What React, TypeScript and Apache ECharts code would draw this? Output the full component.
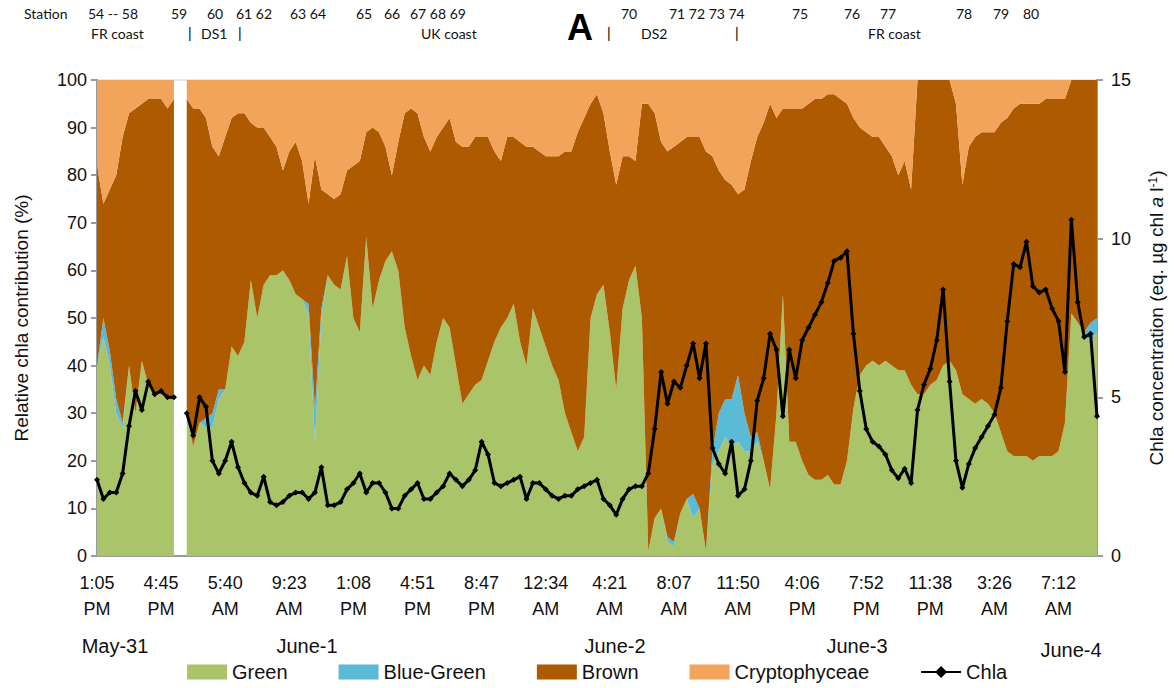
import React, { useEffect, useRef } from "react";
import * as echarts from "echarts";

// Relative contribution (%) of each algal group per sample; null = no data (sampling gap)
const green = [
  40, 46, 40, 30, 27, 40, 30, 41, 36, 34, 34, 33, 33, null, 30, 23, 28, 27, 27, 33,
  35, 44, 42, 45, 58, 50, 57, 59, 59, 60, 58, 55, 54, 51, 24, 50, 59, 57, 56, 63,
  50, 47, 67, 52, 58, 62, 64, 60, 48, 42, 37, 40, 38, 45, 50, 48, 40, 32, 34, 36,
  37, 41, 45, 48, 50, 53, 45, 40, 52, 48, 44, 40, 37, 30, 26, 22, 25, 50, 55, 57,
  47, 35, 52, 58, 61, 50, 1, 8, 10, 3, 2, 9, 12, 8, 10, 1, 19, 22, 25, 23,
  24, 22, 22, 24, 20, 14, 30, 55, 24, 24, 20, 17, 16, 16, 17, 15, 15, 20, 31, 38,
  40, 41, 40, 41, 40, 39, 39, 36, 34, 34, 36, 37, 40, 41, 39, 34, 33, 32, 33, 32,
  30, 26, 22, 21, 21, 21, 20, 21, 21, 21, 22, 28, 51, 49, 47, 45, 47,
];
const blueGreen = [
  0, 4, 3, 3, 1, 0, 0, 0, 0, 0, 0, 0, 0, null, 0, 0, 0, 2, 3, 2,
  0, 0, 0, 0, 0, 0, 0, 0, 0, 0, 0, 0, 0, 2, 7, 2, 0, 0, 0, 0,
  0, 0, 0, 0, 0, 0, 0, 0, 0, 0, 0, 0, 0, 0, 0, 0, 0, 0, 0, 0,
  0, 0, 0, 0, 0, 0, 0, 0, 0, 0, 0, 0, 0, 0, 0, 0, 0, 0, 0, 0,
  0, 0, 0, 0, 0, 0, 0, 0, 0, 1, 1, 0, 0, 5, 0, 0, 3, 8, 8, 10,
  14, 8, 3, 2, 0, 0, 0, 0, 0, 0, 0, 0, 0, 0, 0, 0, 0, 0, 0, 0,
  0, 0, 0, 0, 0, 0, 0, 0, 0, 0, 0, 0, 0, 0, 0, 0, 0, 0, 0, 0,
  0, 0, 0, 0, 0, 0, 0, 0, 0, 0, 0, 0, 0, 0, 0, 4, 3,
];
const brown = [
  42, 24, 34, 47, 60, 53, 64, 54, 60, 62, 62, 61, 63, null, 66, 71, 66, 63, 56, 49,
  53, 48, 51, 48, 33, 40, 33, 29, 27, 21, 27, 32, 29, 21, 53, 25, 17, 18, 20, 18,
  32, 36, 22, 38, 31, 24, 16, 27, 45, 52, 56, 48, 47, 43, 40, 44, 47, 54, 52, 52,
  51, 47, 40, 35, 38, 35, 42, 46, 34, 37, 40, 44, 47, 55, 59, 67, 67, 45, 42, 36,
  38, 43, 32, 26, 22, 45, 94, 85, 77, 81, 83, 78, 76, 75, 78, 84, 62, 51, 46, 45,
  38, 47, 58, 62, 71, 81, 62, 39, 70, 70, 74, 78, 80, 80, 80, 82, 81, 75, 61, 52,
  49, 47, 48, 45, 44, 41, 44, 41, 66, 66, 64, 63, 60, 59, 56, 44, 53, 56, 56, 57,
  59, 65, 70, 73, 74, 74, 75, 74, 75, 75, 74, 68, 49, 51, 53, 51, 50,
];
const cryptophyceae = [
  18, 26, 23, 20, 12, 7, 6, 5, 4, 4, 4, 6, 4, null, 4, 6, 6, 8, 14, 16,
  12, 8, 7, 7, 9, 10, 10, 12, 14, 19, 15, 13, 17, 26, 16, 23, 24, 25, 24, 19,
  18, 17, 11, 10, 11, 14, 20, 13, 7, 6, 7, 12, 15, 12, 10, 8, 13, 14, 14, 12,
  12, 12, 15, 17, 12, 12, 13, 14, 14, 15, 16, 16, 16, 15, 15, 11, 8, 5, 3, 7,
  15, 22, 16, 16, 17, 5, 5, 7, 13, 15, 14, 13, 12, 12, 12, 15, 16, 19, 21, 22,
  24, 23, 17, 12, 9, 5, 8, 6, 6, 6, 6, 5, 4, 4, 3, 3, 4, 5, 8, 10,
  11, 12, 12, 14, 16, 20, 17, 23, 0, 0, 0, 0, 0, 0, 5, 22, 14, 12, 11, 11,
  11, 9, 8, 6, 5, 5, 5, 5, 4, 4, 4, 4, 0, 0, 0, 0, 0,
];
// Chlorophyll a concentration (eq. µg chl a per litre)
const chla = [
  2.4, 1.8, 2.0, 2.0, 2.6, 4.1, 5.2, 4.6, 5.5, 5.1, 5.2, 5.0, 5.0, null, 4.5, 3.8, 5.0, 4.7, 3.0, 2.6,
  3.0, 3.6, 2.8, 2.3, 2.0, 1.9, 2.5, 1.7, 1.6, 1.7, 1.9, 2.0, 2.0, 1.8, 2.0, 2.8, 1.6, 1.6, 1.7, 2.1,
  2.3, 2.6, 2.0, 2.3, 2.3, 2.0, 1.5, 1.5, 1.9, 2.1, 2.3, 1.8, 1.8, 2.0, 2.2, 2.6, 2.4, 2.2, 2.4, 2.7,
  3.6, 3.2, 2.3, 2.2, 2.3, 2.4, 2.5, 1.8, 2.3, 2.3, 2.1, 1.9, 1.8, 1.9, 1.9, 2.1, 2.2, 2.3, 2.4, 1.8,
  1.6, 1.3, 1.8, 2.1, 2.2, 2.2, 2.6, 4.0, 5.8, 4.8, 5.5, 5.3, 6.0, 6.7, 5.6, 6.7, 3.4, 2.9, 2.6, 3.6,
  1.9, 2.1, 3.0, 4.9, 5.6, 7.0, 6.5, 4.4, 6.5, 5.6, 6.8, 7.2, 7.6, 8.0, 8.6, 9.3, 9.4, 9.6, 7.0, 5.2,
  4.0, 3.6, 3.45, 3.2, 2.7, 2.45, 2.75, 2.3, 4.6, 5.4, 5.9, 6.8, 8.4, 5.5, 3.0, 2.15, 2.9, 3.4, 3.75, 4.1,
  4.45, 5.3, 7.4, 9.2, 9.1, 9.9, 8.5, 8.3, 8.4, 7.8, 7.4, 5.8, 10.6, 8.0, 6.9, 7.0, 4.4,
];

// Time stamps shown every LABEL_EVERY samples along the x axis
const LABEL_EVERY = 10;
const tickLabels = [
  "1:05\nPM", "4:45\nPM", "5:40\nAM", "9:23\nAM", "1:08\nPM", "4:51\nPM", "8:47\nPM", "12:34\nAM",
  "4:21\nAM", "8:07\nAM", "11:50\nAM", "4:06\nPM", "7:52\nPM", "11:38\nPM", "3:26\nAM", "7:12\nAM",
];
const samples = chla.map((_, i) => String(i));

// Day markers under the time axis
const dayNames = ["May-31", "June-1", "June-2", "June-3", "June-4"];
const dayX = [115, 307, 615, 857, 1071];
const dayY = [646, 646, 646, 646, 650];

// Station header rows
const stationTop = [
  ["Station", 24], ["54 -- 58", 88], ["59", 171], ["60", 207], ["61 62", 236], ["63 64", 290],
  ["65", 356], ["66", 384], ["67 68 69", 410], ["70", 621], ["71 72 73 74", 669], ["75", 792],
  ["76", 844], ["77", 880], ["78", 956], ["79", 993], ["80", 1023],
] as [string, number][];
const stationBottom = [
  ["FR coast", 91], ["|", 188], ["DS1", 201], ["|", 238], ["UK coast", 421],
  ["|", 607], ["DS2", 641], ["|", 735], ["FR coast", 868],
] as [string, number][];

const COLORS = {
  green: "#AAC46A",
  blueGreen: "#5BBAD6",
  brown: "#AE5A00",
  crypto: "#F2A45A",
};

const FONT = '"Liberation Sans", Arial, Helvetica, sans-serif';
const HEAD_FONT = 'Lato, "Open Sans", sans-serif';

export default function App() {
  const ref = useRef<HTMLDivElement>(null);

  useEffect(() => {
    if (!ref.current) return;
    const chart = echarts.init(ref.current, undefined, { renderer: "svg" });

    const areaSeries = (name: string, data: (number | null)[], color: string) => ({
      name,
      type: "line",
      stack: "pct",
      data,
      symbol: "none",
      connectNulls: false,
      lineStyle: { width: 0 },
      areaStyle: { color, opacity: 1 },
      itemStyle: { color },
      emphasis: { disabled: true },
      z: 2,
    });

    const graphics: any[] = [];
    stationTop.forEach(([t, x]) =>
      graphics.push({
        type: "text", left: x, top: 6,
        style: { text: t, font: `14px ${HEAD_FONT}`, fill: "#111" },
      })
    );
    stationBottom.forEach(([t, x]) =>
      graphics.push({
        type: "text", left: x, top: 26,
        style: { text: t, font: t === "|" ? `14px ${FONT}` : `14px ${HEAD_FONT}`, fill: "#111" },
      })
    );
    graphics.push({
      type: "text", left: 567, top: 9,
      style: { text: "A", font: `bold 36px ${FONT}`, fill: "#000" },
    });
    dayNames.forEach((t, k) =>
      graphics.push({
        type: "text", x: dayX[k], y: dayY[k],
        style: { text: t, font: `20px ${FONT}`, fill: "#111", align: "center", verticalAlign: "middle" },
      })
    );

    chart.setOption({
      animation: false,
      grid: {
        left: 97, right: 76, top: 80, bottom: 132,
        show: true, borderColor: "#cfcfcf", borderWidth: 1,
      },
      legend: {
        left: 187, top: 662,
        itemWidth: 40, itemHeight: 15, itemGap: 51,
        padding: 0,
        textStyle: { fontFamily: FONT, fontSize: 20, color: "#111", lineHeight: 20 },
        data: [
          { name: "Green", icon: "rect" },
          { name: "Blue-Green", icon: "rect" },
          { name: "Brown", icon: "rect" },
          { name: "Cryptophyceae", icon: "rect" },
          { name: "Chla" },
        ],
        selectedMode: false,
      },
      xAxis: {
        type: "category",
        data: samples,
        boundaryGap: false,
        axisLine: { lineStyle: { color: "#9a9a9a", width: 2 } },
        axisTick: { show: false },
        axisLabel: {
          interval: (i: number) => i % LABEL_EVERY === 0,
          formatter: (_v: string, i: number) => tickLabels[i / LABEL_EVERY] ?? "",
          fontFamily: FONT, fontSize: 18, color: "#111", lineHeight: 26, margin: 14,
        },
        splitLine: { show: false },
      },
      yAxis: [
        {
          type: "value", min: 0, max: 100, interval: 10,
          name: "Relative chla contribution (%)",
          nameLocation: "middle", nameGap: 66,
          nameTextStyle: { fontFamily: FONT, fontSize: 19, color: "#111" },
          axisLine: { show: true, lineStyle: { color: "#9a9a9a", width: 2 } },
          axisTick: { show: true, length: 6, lineStyle: { color: "#9a9a9a", width: 2 } },
          axisLabel: { fontFamily: FONT, fontSize: 18, color: "#111", margin: 10 },
          splitLine: { show: false },
        },
        {
          type: "value", min: 0, max: 15, interval: 5, position: "right",
          name: "{n|Chla concentration (eq. µg chl }{i|a}{n| l}{s|-1}{n|)}",
          nameLocation: "middle", nameGap: 50,
          nameTextStyle: {
            fontFamily: FONT, fontSize: 19, color: "#111",
            rich: {
              n: { fontFamily: FONT, fontSize: 19, color: "#111" },
              i: { fontFamily: FONT, fontSize: 19, fontStyle: "italic", color: "#111" },
              s: { fontFamily: FONT, fontSize: 12, color: "#111", verticalAlign: "top", lineHeight: 14 },
            },
          },
          axisLine: { show: true, lineStyle: { color: "#9a9a9a", width: 2 } },
          axisTick: { show: true, length: 6, lineStyle: { color: "#9a9a9a", width: 2 } },
          axisLabel: { fontFamily: FONT, fontSize: 18, color: "#111", margin: 14 },
          splitLine: { show: false },
        },
      ],
      series: [
        areaSeries("Green", green, COLORS.green),
        areaSeries("Blue-Green", blueGreen, COLORS.blueGreen),
        areaSeries("Brown", brown, COLORS.brown),
        areaSeries("Cryptophyceae", cryptophyceae, COLORS.crypto),
        {
          name: "Chla",
          type: "line",
          yAxisIndex: 1,
          data: chla,
          connectNulls: false,
          symbol: "diamond",
          symbolSize: 6,
          showSymbol: true,
          showAllSymbol: true,
          lineStyle: { color: "#000", width: 3 },
          itemStyle: { color: "#000" },
          emphasis: { disabled: true },
          z: 5,
        },
      ],
      graphic: graphics,
    });

    return () => chart.dispose();
  }, []);

  return (
    <div
      ref={ref}
      style={{ position: "absolute", left: 0, top: 0, width: 1174, height: 688 }}
    />
  );
}
